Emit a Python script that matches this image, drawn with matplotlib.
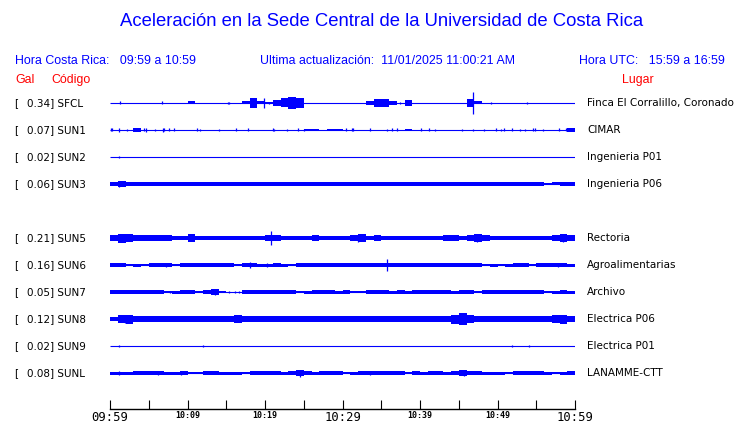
"""Aceleración en la Sede Central de la UCR (registro de una hora)"""

import matplotlib
matplotlib.use("Agg")
import matplotlib.pyplot as plt
import numpy as np

AZUL = "#0000ff"
ROJO = "#ff0000"

codigos = ["SFCL", "SUN1", "SUN2", "SUN3", "SUN4", "SUN5",
           "SUN6", "SUN7", "SUN8", "SUN9", "SUNL"]
gal = [0.34, 0.07, 0.02, 0.06, None, 0.21, 0.16, 0.05, 0.12, 0.02, 0.08]
lugares = ["Finca El Corralillo, Coronado", "CIMAR", "Ingenieria P01",
           "Ingenieria P06", None, "Rectoria", "Agroalimentarias", "Archivo",
           "Electrica P06", "Electrica P01", "LANAMME-CTT"]

# envolvente (semi-amplitud relativa) por minuto, 60 minutos
env_sfcl = [0, 0, 0, 0, 0, 0, 0, 0, 0, 0,
            1.0, 0, 0, 0, 0, 0, 0, 1.0, 3.3, 1.0,
            0.6, 2.0, 3.0, 4.0, 3.5, 0, 0, 0, 0, 0,
            0, 0, 0, 1.5, 2.5, 2.5, 1.5, 0, 1.7, 0,
            0, 0, 0, 0, 0, 0, 2.5, 1.0, 0, 0,
            0, 0, 0, 0, 0, 0, 0, 0, 0, 0]
env_sun1 = [0, 0, 0, 1.2, 0, 0, 0, 0, 0, 0,
            0, 0, 0, 0, 0, 0, 0, 0, 0, 0,
            0, 0, 0, 0, 0, 0.9, 0.9, 0, 0.9, 0.9,
            0, 0, 0, 0, 0, 0, 0, 0, 0.9, 0,
            0, 0, 0, 0, 0, 0, 0, 0, 0, 0,
            0, 0, 0, 0, 0, 0, 0, 0, 0, 1.4]
env_sun2 = [0, 0, 0, 0, 0, 0, 0, 0, 0, 0,
            0, 0, 0, 0, 0, 0, 0, 0, 0, 0,
            0, 0, 0, 0, 0, 0, 0, 0, 0, 0,
            0, 0, 0, 0, 0, 0, 0, 0, 0, 0,
            0, 0, 0, 0, 0, 0, 0, 0, 0, 0,
            0, 0, 0, 0, 0, 0, 0, 0, 0, 0]
env_sun3 = [1.2, 1.7, 1.3, 1.3, 1.3, 1.4, 1.3, 1.3, 1.3, 1.3,
            1.3, 1.3, 1.3, 1.4, 1.3, 1.3, 1.3, 1.3, 1.2, 1.3,
            1.3, 1.3, 1.3, 1.2, 1.3, 1.3, 1.2, 1.3, 1.3, 1.2,
            1.3, 1.3, 1.3, 1.4, 1.3, 1.3, 1.2, 1.3, 1.3, 1.3,
            1.3, 1.3, 1.3, 1.3, 1.4, 1.3, 1.3, 1.3, 1.3, 1.2,
            1.3, 1.2, 1.3, 1.3, 1.3, 1.3, 0.5, 1.0, 1.3, 1.3]
env_sun5 = [2.3, 3.0, 2.7, 1.7, 1.7, 2.0, 1.7, 2.3, 1.3, 1.5,
            2.7, 1.5, 1.3, 1.5, 1.3, 1.5, 1.3, 1.3, 1.5, 1.3,
            2.0, 1.7, 1.5, 1.5, 1.3, 1.5, 1.7, 1.3, 1.5, 1.3,
            1.5, 1.7, 2.5, 1.5, 1.7, 1.5, 1.5, 1.5, 1.5, 1.3,
            1.5, 1.5, 1.5, 2.3, 1.7, 1.5, 1.7, 2.7, 1.7, 1.5,
            1.5, 1.5, 1.5, 1.3, 1.5, 1.5, 1.5, 1.7, 2.7, 1.7]
env_sun6 = [1.1, 1.1, 0.9, 1.0, 0.9, 1.1, 1.1, 1.1, 0.9, 1.1,
            1.1, 1.1, 1.1, 1.1, 1.1, 1.1, 0.9, 1.1, 1.2, 1.0,
            1.0, 1.1, 1.0, 0.8, 1.1, 1.1, 1.1, 1.1, 1.1, 1.1,
            1.1, 1.1, 1.1, 1.1, 1.1, 1.1, 1.1, 1.1, 1.1, 1.1,
            1.1, 1.1, 1.1, 1.1, 1.1, 1.1, 1.1, 1.1, 0.9, 1.0,
            0.9, 1.0, 1.1, 1.1, 0.9, 1.1, 1.1, 1.1, 1.2, 1.0]
env_sun7 = [1.3, 1.3, 1.3, 1.3, 1.3, 1.3, 1.3, 0.6, 1.0, 1.3,
            1.3, 0.4, 1.3, 1.7, 0.5, 0.3, 0.3, 1.3, 1.3, 1.3,
            1.3, 1.3, 1.3, 1.3, 0.8, 1.0, 1.3, 1.3, 1.3, 1.0,
            1.3, 0.8, 0.8, 1.3, 1.3, 1.3, 1.0, 1.3, 1.0, 1.3,
            1.3, 1.3, 1.3, 1.3, 1.0, 1.3, 1.3, 0.6, 1.3, 1.3,
            1.3, 1.3, 1.3, 1.3, 1.3, 1.3, 0.8, 1.0, 1.3, 1.0]
env_sun8 = [1.5, 2.7, 3.0, 2.0, 2.2, 1.8, 1.7, 1.7, 1.7, 2.0,
            1.7, 1.7, 1.7, 1.7, 2.0, 2.3, 2.5, 2.0, 1.7, 1.7,
            1.8, 1.7, 1.8, 1.7, 1.7, 1.7, 1.7, 1.7, 1.7, 1.7,
            1.7, 1.7, 1.7, 1.8, 1.8, 1.7, 1.8, 2.0, 2.3, 2.3,
            2.3, 2.0, 1.8, 2.3, 3.0, 3.7, 2.7, 2.0, 2.2, 1.8,
            2.0, 1.8, 1.8, 2.0, 1.8, 2.0, 2.0, 2.7, 3.0, 2.3]
env_sun9 = [0, 0, 0, 0, 0, 0, 0, 0, 0, 0,
            0, 0, 0, 0, 0, 0, 0, 0, 0, 0,
            0, 0, 0, 0, 0, 0, 0, 0, 0, 0,
            0, 0, 0, 0, 0, 0, 0, 0, 0, 0,
            0, 0, 0, 0, 0, 0, 0, 0, 0, 0,
            0, 0, 0, 0, 0, 0, 0, 0, 0, 0]
env_sunl = [1.0, 1.0, 1.0, 1.2, 1.2, 1.3, 1.5, 1.0, 1.0, 1.2,
            0.8, 0.8, 1.2, 1.2, 1.0, 1.0, 1.0, 0.8, 1.2, 1.2,
            1.2, 1.2, 1.0, 1.2, 2.0, 1.2, 1.0, 1.2, 1.2, 1.2,
            0.8, 1.0, 1.2, 1.5, 1.2, 1.2, 1.2, 1.2, 0.8, 1.2,
            1.0, 1.2, 1.2, 1.0, 1.3, 2.0, 1.2, 1.2, 1.0, 1.0,
            1.0, 0.8, 1.2, 1.2, 1.2, 1.2, 1.0, 0.6, 1.0, 1.2]

# picos aislados: (minuto, semi-amplitud en px)
picos_sfcl = [(1.3, 1.5), (6.7, 1.5), (15.2, 1.0), (15.4, 1.0), (19.9, 4.7),
              (20.5, 1.3), (37.4, 1.3), (46.9, 11.0), (49.2, 1.3), (53.8, 1.3)]
picos_sun1 = [(0.1, 1.5), (0.3, 1.5), (1.2, 2.0), (2.2, 1.0), (4.4, 1.5),
              (4.7, 2.0), (5.8, 1.0), (6.9, 2.0), (7.0, 1.5), (7.6, 1.5),
              (8.2, 1.5), (11.2, 1.5), (11.6, 1.0), (14.0, 1.0), (16.2, 1.5),
              (17.8, 1.5), (21.0, 1.5), (21.2, 1.0), (22.8, 1.0), (24.2, 1.5),
              (25.0, 1.0), (30.5, 1.5), (31.2, 1.5), (31.4, 1.5), (33.6, 1.5),
              (35.8, 1.0), (36.4, 1.5), (37.0, 1.5), (40.1, 1.5), (41.1, 1.5),
              (41.9, 1.0), (45.4, 1.0), (46.9, 1.0), (48.2, 1.0), (49.8, 1.5),
              (50.5, 1.0), (50.9, 1.5), (51.9, 1.5), (52.9, 1.0), (53.6, 1.0),
              (54.6, 1.5), (54.9, 1.5), (55.9, 1.0), (57.9, 1.5), (58.9, 1.5)]
picos_sun2 = [(1.2, 1.0)]
picos_sun3 = [(1.2, 3.0)]
picos_sun5 = [(1.8, 4.0), (20.8, 7.3), (32.0, 3.5), (47.3, 4.0), (58.5, 4.0)]
picos_sun6 = [(7.2, 2.0), (18.1, 3.0), (20.2, 2.0), (35.8, 5.8), (57.8, 2.3)]
picos_sun7 = [(7.8, 1.3), (13.5, 2.7), (15.3, 1.3), (16.1, 1.3), (16.7, 1.3)]
picos_sun8 = [(1.9, 4.0), (45.6, 4.7), (58.2, 4.0)]
picos_sun9 = [(1.2, 1.3), (12.0, 1.3), (51.9, 0.8), (54.1, 1.3)]
picos_sunl = [(1.2, 2.3), (6.2, 2.3), (9.2, 2.0), (24.5, 3.5), (33.5, 2.3),
              (45.7, 3.0)]

envolventes = [env_sfcl, env_sun1, env_sun2, env_sun3, None, env_sun5,
               env_sun6, env_sun7, env_sun8, env_sun9, env_sunl]
picos = [picos_sfcl, picos_sun1, picos_sun2, picos_sun3, None, picos_sun5,
         picos_sun6, picos_sun7, picos_sun8, picos_sun9, picos_sunl]

minutos_ticks = [0, 5, 10, 15, 20, 25, 30, 35, 40, 45, 50, 55, 60]
etiquetas_ticks = ["09:59", "", "10:09", "", "10:19", "", "10:29",
                   "", "10:39", "", "10:49", "", "10:59"]

# --- figura ----------------------------------------------------------------
W, H = 740, 423
fig = plt.figure(figsize=(W / 100, H / 100), dpi=100)


def fx(px):
    return px / W


def fy(py):
    return 1 - py / H


# ejes en coordenadas de pixel: x 110..575, y 90..409
ax = fig.add_axes([fx(110), fy(409), fx(575) - fx(110), fy(90) - fy(409)])
ax.set_xlim(0, 60)
ax.set_ylim(409, 90)

Y0, PASO = 103, 27
GANANCIA = 1.5          # px por unidad de envolvente
bordes = np.arange(61)

for i, cod in enumerate(codigos):
    env = envolventes[i]
    if env is None:
        continue
    base = Y0 + PASO * i
    env = np.asarray(env, dtype=float) * GANANCIA
    ax.hlines(base, 0, 60, color=AZUL, lw=0.8)
    ax.stairs(base + env, bordes, baseline=base - env, fill=True,
              color=AZUL, lw=0)
    if picos[i]:
        t = [p[0] for p in picos[i]]
        a = np.array([p[1] for p in picos[i]])
        ax.vlines(t, base - a, base + a, color=AZUL, lw=0.9)

    fig.text(fx(14), fy(base), "[", ha="left", va="center", fontsize=7.5,
             family="DejaVu Sans")
    fig.text(fx(27), fy(base), f"{gal[i]:.2f}] {cod}", ha="left",
             va="center", fontsize=7.5, family="DejaVu Sans")
    fig.text(fx(587), fy(base), lugares[i], ha="left", va="center",
             fontsize=7.5, family="DejaVu Sans")

for lado in ["top", "left", "right"]:
    ax.spines[lado].set_visible(False)
ax.spines["bottom"].set_linewidth(1.0)
ax.set_yticks([])
ax.set_xticks(minutos_ticks)
ax.set_xticklabels(etiquetas_ticks)
ax.tick_params(axis="x", direction="in", length=6.5, width=0.8, pad=1.5)
for k, lab in enumerate(ax.get_xticklabels()):
    lab.set_family("DejaVu Sans Mono")
    if minutos_ticks[k] % 30 == 0:
        lab.set_fontsize(8.8)
    else:
        lab.set_fontsize(6)
        lab.set_fontweight("bold")

# encabezados
fig.text(fx(382), fy(22), "Aceleración en la Sede Central de la Universidad de Costa Rica",
         ha="center", va="center", fontsize=13.3, color=AZUL, family="Liberation Sans")
fig.text(fx(15), fy(61), "Hora Costa Rica:   09:59 a 10:59", ha="left", va="center",
         fontsize=8.9, color=AZUL, family="Liberation Sans")
fig.text(fx(260), fy(61), "Ultima actualización:  11/01/2025 11:00:21 AM", ha="left",
         va="center", fontsize=8.9, color=AZUL, family="Liberation Sans")
fig.text(fx(725), fy(61), "Hora UTC:   15:59 a 16:59", ha="right", va="center",
         fontsize=8.9, color=AZUL, family="Liberation Sans")
fig.text(fx(15), fy(80), "Gal", ha="left", va="center", fontsize=8.9, color=ROJO,
         family="Liberation Sans")
fig.text(fx(51), fy(80), "Código", ha="left", va="center", fontsize=8.9, color=ROJO,
         family="Liberation Sans")
fig.text(fx(622), fy(80), "Lugar", ha="left", va="center", fontsize=8.9, color=ROJO,
         family="Liberation Sans")

fig.savefig("out.png", dpi=100)
plt.close(fig)
